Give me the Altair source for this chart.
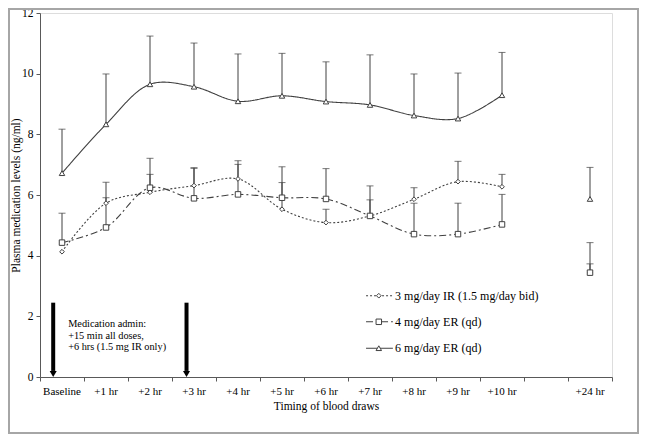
import altair as alt
import pandas as pd

categories = ["Baseline", "+1 hr", "+2 hr", "+3 hr", "+4 hr", "+5 hr", "+6 hr",
              "+7 hr", "+8 hr", "+9 hr", "+10 hr", "", "+24 hr"]

series_names = ["3 mg/day IR (1.5 mg/day bid)", "4 mg/day ER (qd)", "6 mg/day ER (qd)"]

ir_mean = [4.13, 5.73, 6.09, 6.31, 6.53, 5.53, 5.09, 5.31, 5.86, 6.44, 6.27, None, 3.44]
ir_upper = [None, 6.42, 6.68, 6.90, 7.13, 6.41, 5.53, 5.84, 6.24, 7.11, 6.68, None, 3.73]

er4_mean = [4.43, 4.93, 6.24, 5.89, 6.02, 5.91, 5.87, 5.31, 4.71, 4.71, 5.03, None, 3.44]
er4_upper = [5.40, 5.91, 7.21, 6.88, 7.01, 6.93, 6.87, 6.30, 5.73, 5.73, 6.02, None, 4.43]

er6_mean = [6.72, 8.33, 9.65, 9.57, 9.09, 9.27, 9.08, 8.97, 8.62, 8.52, 9.29, None, 5.87]
er6_upper = [8.17, 9.99, 11.24, 11.01, 10.65, 10.67, 10.39, 10.62, 9.99, 10.02, 10.70, None, 6.91]

annotation_lines = ["Medication admin:", "+15 min all doses,", "+6 hrs (1.5 mg IR only)"]

FONT = "Liberation Serif, Times New Roman, Times, serif"
INK = "#404040"
shapes = ["diamond", "square", "triangle-up"]
dashes = [[2, 2], [7, 3, 2, 3], [1, 0]]
sizes = [22, 30, 30]

rows = []
for name, means, uppers in zip(series_names, [ir_mean, er4_mean, er6_mean],
                               [ir_upper, er4_upper, er6_upper]):
    for i, (m, u) in enumerate(zip(means, uppers)):
        if m is None:
            continue
        rows.append({"series": name, "idx": i, "x": i + 0.5, "mean": m,
                     "upper": u, "connected": categories[i] != "+24 hr"})
df = pd.DataFrame(rows)

xscale = alt.Scale(domain=[0, 13], nice=False, zero=False)
yscale = alt.Scale(domain=[0, 12], nice=False)

x_axis = alt.Axis(values=list(range(14)), labels=False, title="Timing  of  blood draws",
                  grid=False, tickSize=4, titlePadding=19,
                  domainColor="#595959", tickColor="#595959",
                  titleFontSize=11.5, titleFontWeight="normal", titleFont=FONT,
                  titleColor="black")
y_axis = alt.Axis(values=[0, 2, 4, 6, 8, 10, 12], title="Plasma  medication  levels  (ng/ml)",
                  grid=False, tickSize=4, labelPadding=3,
                  titleX=-24, titleY=182, titleAngle=270, titleBaseline="middle", titleAlign="center",
                  domainColor="#595959", tickColor="#595959", labelColor="black",
                  labelFontSize=11.5, titleFontSize=11.5, titleFontWeight="normal",
                  labelFont=FONT, titleFont=FONT, titleColor="black")

base = alt.Chart(df)

layers = []
# frame around the whole figure
frame = alt.Chart(pd.DataFrame({"a": [0]})).mark_rect(
    fill=None, stroke="#a6a6a6", strokeWidth=2).encode(
    x=alt.value(-31), x2=alt.value(598), y=alt.value(-4), y2=alt.value(420))
layers.append(frame)

err = base.transform_filter("datum.upper != null")
layers.append(err.mark_rule(color=INK, strokeWidth=1).encode(
    x=alt.X("x:Q", scale=xscale, axis=x_axis),
    y=alt.Y("mean:Q", scale=yscale, axis=y_axis),
    y2="upper:Q"))
layers.append(err.mark_tick(color=INK, orient="horizontal", size=7, thickness=1).encode(
    x=alt.X("x:Q", scale=xscale), y=alt.Y("upper:Q", scale=yscale)))

for name, dash in zip(series_names, dashes):
    layers.append(base.transform_filter(
        (alt.datum.series == name) & (alt.datum.connected == True)).mark_line(
        color=INK, strokeWidth=1.1, strokeDash=dash, interpolate="catmull-rom").encode(
        x=alt.X("x:Q", scale=xscale), y=alt.Y("mean:Q", scale=yscale), order="idx:Q"))

for name, shp, sz in zip(series_names, shapes, sizes):
    layers.append(base.transform_filter(alt.datum.series == name).mark_point(
        shape=shp, size=sz, filled=True, fill="white", stroke=INK, strokeWidth=1, opacity=1).encode(
        x=alt.X("x:Q", scale=xscale), y=alt.Y("mean:Q", scale=yscale)))

# category labels centred in each slot of the time axis
cat_df = pd.DataFrame({"cat": categories, "cx": [i + 0.5 for i in range(len(categories))]})
layers.append(alt.Chart(cat_df).mark_text(baseline="middle", align="center", font=FONT,
                                          fontSize=11, color="black").encode(
    x=alt.X("cx:Q", scale=xscale), y=alt.value(379), text="cat:N"))

# legend drawn from the series names
leg = pd.DataFrame({"series": series_names, "ly": [2.68, 1.82, 0.95]})
for k, (name, dash, shp, sz) in enumerate(zip(series_names, dashes, shapes, sizes)):
    one = alt.Chart(leg.iloc[[k]])
    layers.append(one.mark_rule(color=INK, strokeWidth=1.1, strokeDash=dash).encode(
        x=alt.datum(7.41, scale=xscale), x2=alt.datum(8.02), y=alt.Y("ly:Q", scale=yscale)))
    layers.append(one.mark_point(shape=shp, size=sz, filled=True, fill="white",
                                 stroke=INK, strokeWidth=1, opacity=1).encode(
        x=alt.datum(7.7, scale=xscale), y=alt.Y("ly:Q", scale=yscale)))
    layers.append(one.mark_text(align="left", baseline="middle", font=FONT, fontSize=12,
                                color="black").encode(
        x=alt.datum(8.07, scale=xscale), y=alt.Y("ly:Q", scale=yscale), text="series:N"))

# dosing arrows
arrows = pd.DataFrame({"ax": [0.3, 3.33]})
arr = alt.Chart(arrows)
layers.append(arr.mark_rule(color="black", strokeWidth=4).encode(
    x=alt.X("ax:Q", scale=xscale), y=alt.datum(2.45, scale=yscale), y2=alt.datum(0.2)))
layers.append(arr.mark_point(shape="triangle-down", size=50, filled=True, color="black", opacity=1).encode(
    x=alt.X("ax:Q", scale=xscale), y=alt.datum(0.1, scale=yscale)))

ann = pd.DataFrame({"t": annotation_lines, "ty": [1.75, 1.36, 0.98]})
layers.append(alt.Chart(ann).mark_text(align="left", baseline="middle", font=FONT,
                                       fontSize=10.3, color="black").encode(
    x=alt.datum(0.64, scale=xscale), y=alt.Y("ty:Q", scale=yscale), text="t:N"))

chart = alt.layer(*layers).properties(
    width=572, height=364,
    autosize=alt.AutoSizeParams(type="none"),
    padding={"left": 32, "top": 5, "right": 27, "bottom": 57},
    background="white",
).configure_view(stroke=None).configure(font=FONT)

chart.save("out.html", embed_options={"renderer": "svg", "actions": False})
